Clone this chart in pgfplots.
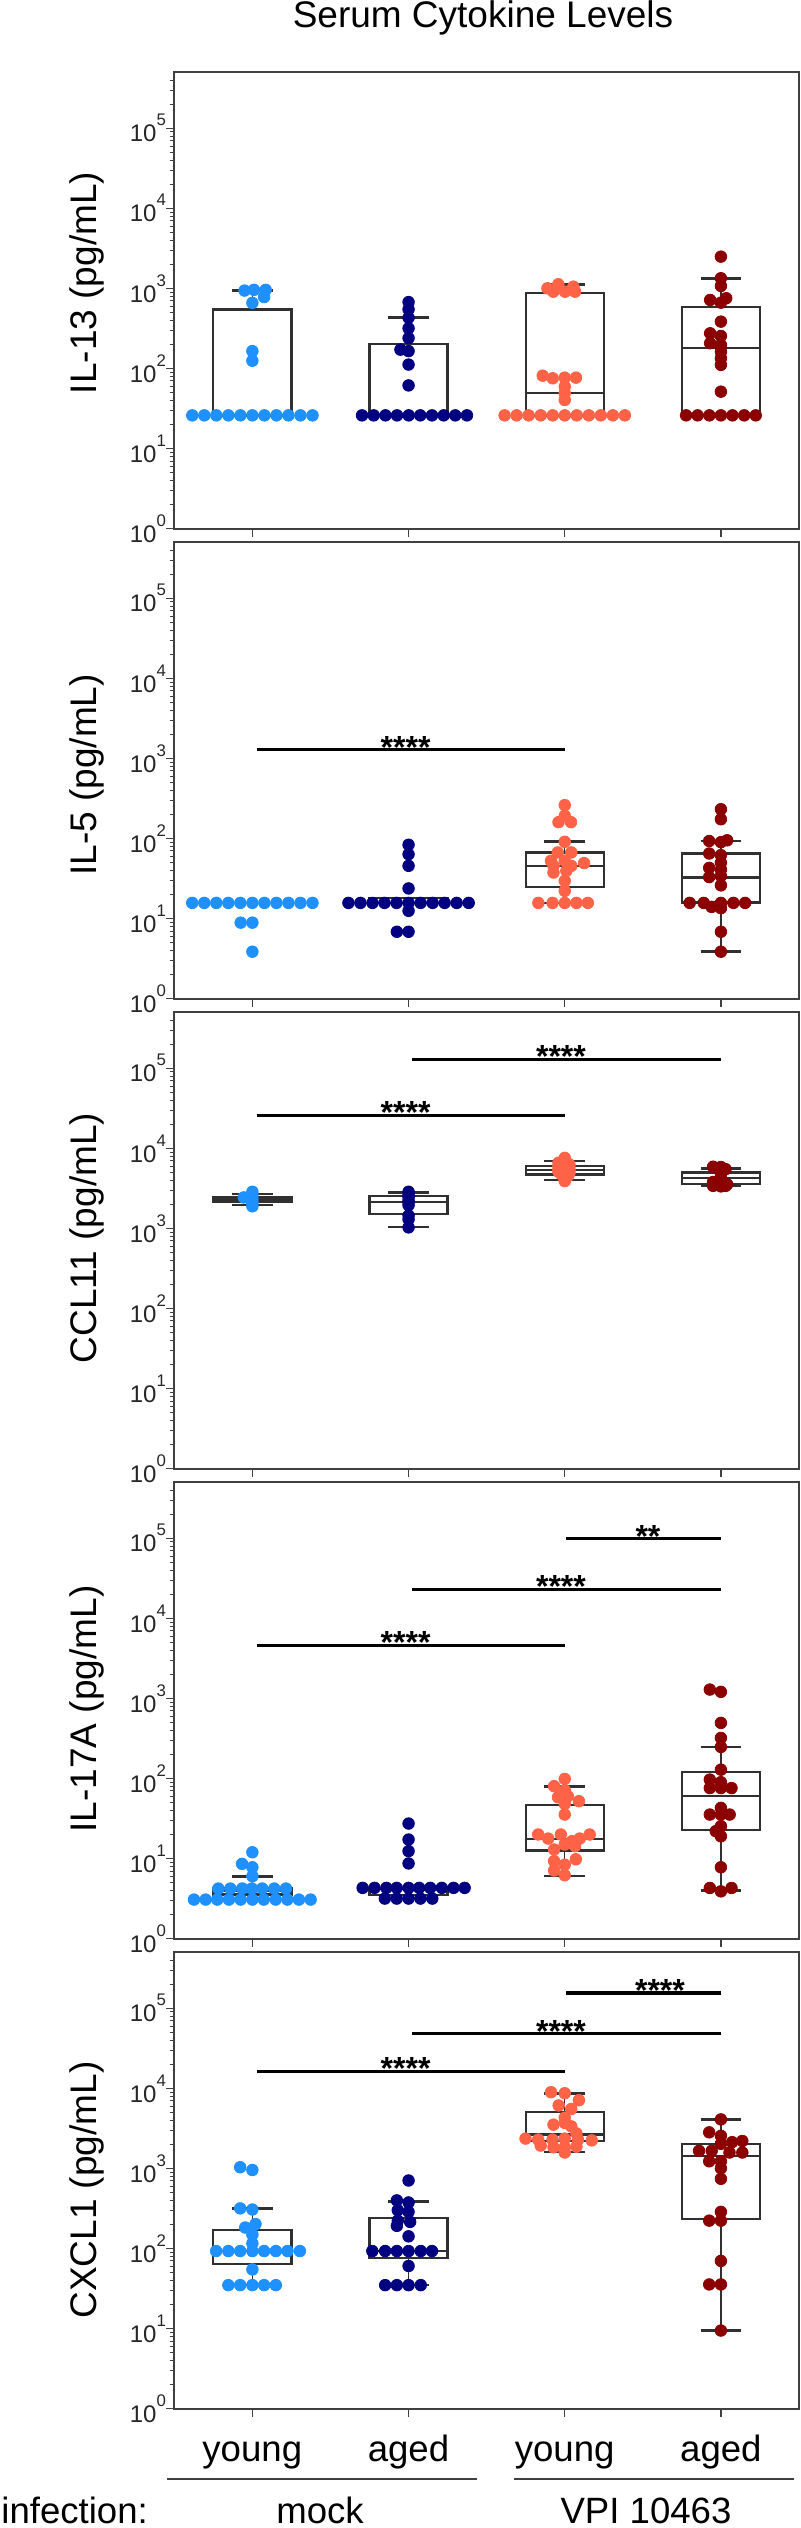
\documentclass[border=0pt]{standalone}
\usepackage{pgfplots}
\pgfplotsset{compat=1.18}
\usepackage{fontspec}
\setmainfont{Liberation Sans}
\definecolor{cYoung}{HTML}{1E90FF}
\definecolor{cAged}{HTML}{000080}
\definecolor{cVY}{HTML}{FF6347}
\definecolor{cVA}{HTML}{8B0000}
\definecolor{axc}{HTML}{404040}
\definecolor{boxc}{HTML}{303030}
\newcommand{\tl}[1]{\mbox{10\raisebox{8pt}{\fontsize{8.4}{9}\selectfont #1}}}
\newcommand{\bxx}[5]{%
  \addplot[draw=boxc, line width=1.15pt, line join=miter, line cap=rect] coordinates {(#1,#3) (#2,#3) (#2,#5) (#1,#5) (#1,#3)};
  \addplot[draw=boxc, line width=1.15pt] coordinates {(#1,#4) (#2,#4)};}
\newcommand{\wh}[5]{%
  \addplot[draw=boxc, line width=0.6pt] coordinates {(#1,#4) (#1,#5)};
  \addplot[draw=boxc, line width=1.3pt] coordinates {(#2,#5) (#3,#5)};}
\newcommand{\sig}[5]{%
  \addplot[draw=black, line width=1.55pt] coordinates {(#1,#3) (#2,#3)};
  \node[anchor=base, inner sep=0pt, yshift=-4.2pt, font=\bfseries\fontsize{16}{16}\selectfont] at (axis cs:#4,#3) {#5};}
\begin{document}
\begin{tikzpicture}
% ---------------- Panel 1: IL-13
\begin{axis}[scale only axis, width=312.35pt, height=228.2pt, anchor=south west, at={(87.15pt,999.65pt)},
    xmin=-0.5, xmax=3.5, ymode=log, ymin=1, ymax=5e5,
    xtick={0,1,2,3}, xticklabels={,,,},
    ytick={1,10,100,1000,10000,100000},
    yticklabels={\tl{0},\tl{1},\tl{2},\tl{3},\tl{4},\tl{5}},
    minor ytick={2,3,4,5,6,7,8,9,20,30,40,50,60,70,80,90,200,300,400,500,600,700,800,900,2000,3000,4000,5000,6000,7000,8000,9000,20000,30000,40000,50000,60000,70000,80000,90000,200000,300000,400000},
    tick align=outside, xtick pos=left, ytick pos=left,
    major tick length=4pt, minor tick length=2pt,
    axis line style={draw=axc, line width=1pt},
    major tick style={draw=axc, line width=0.6pt},
    minor tick style={draw=axc, line width=0.5pt},
    yticklabel style={anchor=east, inner sep=0pt, font=\fontsize{12}{12}\selectfont, text=black!85},
    clip=false]
\bxx{-0.25}{0.25}{26}{26}{546}
\wh{0}{-0.13}{0.13}{546}{950}
\bxx{0.75}{1.25}{26}{26}{201}
\wh{1}{0.87}{1.13}{201}{437}
\bxx{1.75}{2.25}{26}{49.1}{871}
\wh{2}{1.87}{2.13}{871}{1127}
\bxx{2.75}{3.25}{26}{179}{592}
\wh{3}{2.87}{3.13}{592}{1340}
\addplot[only marks, mark=*, mark size=2.9pt, color=cYoung] coordinates {(-0.385,26)(-0.308,26)(-0.231,26)(-0.154,26)(-0.077,26)(0,26)(0.077,26)(0.154,26)(0.231,26)(0.308,26)(0.385,26)(0,125)(0,165)(-0.05,940)(0.01,960)(0.085,960)(0.075,780)(0,660)};
\addplot[only marks, mark=*, mark size=2.9pt, color=cAged] coordinates {(0.702,26)(0.777,26)(0.852,26)(0.926,26)(1.001,26)(1.075,26)(1.150,26)(1.225,26)(1.299,26)(1.374,26)(1,61.5)(1,112)(0.948,172)(1,165)(1,240)(1,318)(1,430)(1,547)(1,675)};
\addplot[only marks, mark=*, mark size=2.9pt, color=cVY] coordinates {(1.615,26)(1.692,26)(1.769,26)(1.846,26)(1.923,26)(2,26)(2.077,26)(2.154,26)(2.231,26)(2.308,26)(2.385,26)(1.859,81.4)(1.923,75.5)(2,76.9)(2.072,76.9)(2,59.3)(2,49.1)(2,40.5)(1.889,1004)(1.959,1127)(2.002,911)(2.055,1052)(2.066,911)(1.927,911)};
\addplot[only marks, mark=*, mark size=2.9pt, color=cVA] coordinates {(2.777,26)(2.851,26)(2.926,26)(3,26)(3.074,26)(3.149,26)(3.223,26)(3,2494)(3,1340)(3,1073)(2.931,718)(3,664)(3.034,754)(3,385)(2.931,275)(3,255)(2.931,207)(3,197)(3,162)(3,134)(3,111)(3,51.4)};
\end{axis}
% ---------------- Panel 2: IL-5
\begin{axis}[scale only axis, width=312.35pt, height=228.2pt, anchor=south west, at={(87.15pt,764.65pt)},
    xmin=-0.5, xmax=3.5, ymode=log, ymin=1, ymax=5e5,
    xtick={0,1,2,3}, xticklabels={,,,},
    ytick={1,10,100,1000,10000,100000},
    yticklabels={\tl{0},\tl{1},\tl{2},\tl{3},\tl{4},\tl{5}},
    minor ytick={2,3,4,5,6,7,8,9,20,30,40,50,60,70,80,90,200,300,400,500,600,700,800,900,2000,3000,4000,5000,6000,7000,8000,9000,20000,30000,40000,50000,60000,70000,80000,90000,200000,300000,400000},
    tick align=outside, xtick pos=left, ytick pos=left,
    major tick length=4pt, minor tick length=2pt,
    axis line style={draw=axc, line width=1pt},
    major tick style={draw=axc, line width=0.6pt},
    minor tick style={draw=axc, line width=0.5pt},
    yticklabel style={anchor=east, inner sep=0pt, font=\fontsize{12}{12}\selectfont, text=black!85},
    clip=false]
\bxx{0.75}{1.25}{15.7}{15.7}{18}
\bxx{1.75}{2.25}{25}{45.6}{67}
\wh{2}{1.87}{2.13}{67}{91}
\wh{2}{1.87}{2.13}{25}{15.7}
\bxx{2.75}{3.25}{15.9}{32.6}{65}
\wh{3}{2.87}{3.13}{65}{93.5}
\wh{3}{2.87}{3.13}{15.9}{3.86}
\addplot[only marks, mark=*, mark size=2.9pt, color=cYoung] coordinates {(-0.385,15.7)(-0.308,15.7)(-0.231,15.7)(-0.154,15.7)(-0.077,15.7)(0,15.7)(0.077,15.7)(0.154,15.7)(0.231,15.7)(0.308,15.7)(0.385,15.7)(-0.075,8.9)(0,8.9)(0,3.86)};
\addplot[only marks, mark=*, mark size=2.9pt, color=cAged] coordinates {(0.615,15.7)(0.692,15.7)(0.769,15.7)(0.846,15.7)(0.923,15.7)(1,15.7)(1.077,15.7)(1.154,15.7)(1.231,15.7)(1.308,15.7)(1.385,15.7)(1,23.8)(1,45.6)(1,63.6)(1,83.6)(1,12.5)(0.925,6.85)(1,6.85)};
\addplot[only marks, mark=*, mark size=2.9pt, color=cVY] coordinates {(1.831,15.7)(1.922,15.7)(2,15.7)(2.075,15.7)(2.148,15.7)(2,261)(2,192)(1.96,160)(2.04,160)(2,90.9)(1.955,67)(2.042,67)(1.912,52.7)(2,52.7)(2.124,49.3)(1.928,45.6)(2.042,45.6)(1.928,37.6)(2.01,39.4)(2,29.6)(2,22.2)};
\addplot[only marks, mark=*, mark size=2.9pt, color=cVA] coordinates {(2.8,15.7)(2.89,15.7)(3,15.7)(3.08,15.7)(3.155,15.7)(2.94,14)(3,13.5)(3,232)(3,174)(2.925,93)(3,90)(3.04,95)(2.925,65)(3,62)(3,50)(2.925,43)(3,41)(3,34)(2.925,33)(3,26)(3,6.85)(3,3.86)};
\sig{0.0275}{2.004}{1277}{0.981}{****}
\end{axis}
% ---------------- Panel 3: CCL11
\begin{axis}[scale only axis, width=312.35pt, height=228.2pt, anchor=south west, at={(87.15pt,529.65pt)},
    xmin=-0.5, xmax=3.5, ymode=log, ymin=1, ymax=5e5,
    xtick={0,1,2,3}, xticklabels={,,,},
    ytick={1,10,100,1000,10000,100000},
    yticklabels={\tl{0},\tl{1},\tl{2},\tl{3},\tl{4},\tl{5}},
    minor ytick={2,3,4,5,6,7,8,9,20,30,40,50,60,70,80,90,200,300,400,500,600,700,800,900,2000,3000,4000,5000,6000,7000,8000,9000,20000,30000,40000,50000,60000,70000,80000,90000,200000,300000,400000},
    tick align=outside, xtick pos=left, ytick pos=left,
    major tick length=4pt, minor tick length=2pt,
    axis line style={draw=axc, line width=1pt},
    major tick style={draw=axc, line width=0.6pt},
    minor tick style={draw=axc, line width=0.5pt},
    yticklabel style={anchor=east, inner sep=0pt, font=\fontsize{12}{12}\selectfont, text=black!85},
    clip=false]
\bxx{-0.25}{0.25}{2153}{2300}{2437}
\wh{0}{-0.13}{0.13}{2437}{2700}
\wh{0}{-0.13}{0.13}{2153}{1960}
\bxx{0.75}{1.25}{1510}{2153}{2534}
\wh{1}{0.87}{1.13}{2534}{2786}
\wh{1}{0.87}{1.13}{1510}{1038}
\bxx{1.75}{2.25}{4720}{5340}{6050}
\wh{2}{1.87}{2.13}{6050}{6920}
\wh{2}{1.87}{2.13}{4720}{4045}
\bxx{2.75}{3.25}{3573}{4285}{5000}
\wh{3}{2.87}{3.13}{5000}{5560}
\wh{3}{2.87}{3.13}{3573}{3450}
\addplot[only marks, mark=*, mark size=2.9pt, color=cYoung] coordinates {(0,2870)(0,2650)(-0.055,2440)(0,2400)(0,2200)(0,2050)(0,1890)};
\addplot[only marks, mark=*, mark size=2.9pt, color=cAged] coordinates {(1,2870)(1,2650)(1,2450)(1,2250)(1,2100)(1,1950)(1,1450)(1,1300)(1,1030)};
\addplot[only marks, mark=*, mark size=2.9pt, color=cVY] coordinates {(2,7600)(2,7000)(1.96,6600)(2.03,6300)(1.96,6000)(2.03,5800)(1.96,5500)(2.03,5300)(1.96,5100)(2.03,4900)(1.98,4700)(2.02,4500)(2,4200)(2,4000)(2,3900)};
\addplot[only marks, mark=*, mark size=2.9pt, color=cVA] coordinates {(2.95,5900)(3,5850)(3.03,5500)(3,4800)(3,4300)(2.95,3800)(3,3700)(3.04,3550)(2.95,3400)(3,3350)(3.03,3400)};
\sig{0.0275}{2.004}{25700}{0.981}{****}
\sig{1.0205}{3.0}{129500}{1.976}{****}
\end{axis}
% ---------------- Panel 4: IL-17A
\begin{axis}[scale only axis, width=312.35pt, height=228.2pt, anchor=south west, at={(87.15pt,294.65pt)},
    xmin=-0.5, xmax=3.5, ymode=log, ymin=1, ymax=5e5,
    xtick={0,1,2,3}, xticklabels={,,,},
    ytick={1,10,100,1000,10000,100000},
    yticklabels={\tl{0},\tl{1},\tl{2},\tl{3},\tl{4},\tl{5}},
    minor ytick={2,3,4,5,6,7,8,9,20,30,40,50,60,70,80,90,200,300,400,500,600,700,800,900,2000,3000,4000,5000,6000,7000,8000,9000,20000,30000,40000,50000,60000,70000,80000,90000,200000,300000,400000},
    tick align=outside, xtick pos=left, ytick pos=left,
    major tick length=4pt, minor tick length=2pt,
    axis line style={draw=axc, line width=1pt},
    major tick style={draw=axc, line width=0.6pt},
    minor tick style={draw=axc, line width=0.5pt},
    yticklabel style={anchor=east, inner sep=0pt, font=\fontsize{12}{12}\selectfont, text=black!85},
    clip=false]
\bxx{-0.25}{0.25}{3.56}{4.0}{4.23}
\wh{0}{-0.13}{0.13}{4.23}{6.03}
\bxx{0.75}{1.25}{3.5}{4.2}{4.31}
\bxx{1.75}{2.25}{12.6}{17.6}{46.4}
\wh{2}{1.87}{2.13}{46.4}{80}
\wh{2}{1.87}{2.13}{12.6}{6.1}
\bxx{2.75}{3.25}{22.6}{60}{120}
\wh{3}{2.87}{3.13}{120}{248}
\wh{3}{2.87}{3.13}{22.6}{4.0}
\addplot[only marks, mark=*, mark size=2.9pt, color=cYoung] coordinates {(-0.374,3.08)(-0.299,3.08)(-0.225,3.08)(-0.150,3.08)(-0.075,3.08)(0,3.08)(0.073,3.08)(0.149,3.08)(0.224,3.08)(0.298,3.08)(0.373,3.08)(-0.218,4.23)(-0.141,4.23)(-0.065,4.23)(-0.003,4.23)(0.063,4.23)(0.14,4.23)(0.215,4.23)(0,6.03)(-0.066,8.6)(0,7.8)(0,12.0)};
\addplot[only marks, mark=*, mark size=2.9pt, color=cAged] coordinates {(0.706,4.31)(0.782,4.31)(0.858,4.31)(0.924,4.31)(1,4.31)(1.068,4.31)(1.139,4.31)(1.213,4.31)(1.288,4.31)(1.359,4.31)(0.848,3.17)(0.924,3.17)(1,3.17)(1.076,3.17)(1.152,3.17)(1,8.7)(1,12.4)(1,17.3)(1,27.4)};
\addplot[only marks, mark=*, mark size=2.9pt, color=cVY] coordinates {(2,98.9)(1.932,80.2)(2,71.5)(1.957,58.4)(2.091,52.1)(2,48.2)(2,35.5)(1.83,20)(1.894,17.8)(1.975,20)(2.046,16.5)(2.096,17.8)(2.16,20)(1.932,13)(2,15)(2.066,14.3)(1.932,9.3)(2.071,9.8)(2,8.4)(1.932,7.1)(2,6.2)(2.02,60)};
\addplot[only marks, mark=*, mark size=2.9pt, color=cVA] coordinates {(2.929,1291)(3,1208)(3,495)(3,321)(3,248)(3,129)(2.929,97)(3,90)(2.929,76)(3,76)(3.068,76)(3,43)(2.929,35.5)(3,35.5)(3.056,35.5)(3,25.4)(2.967,22)(3,19)(3,7.8)(2.929,4.3)(3,3.9)(3.068,4.3)};
\sig{0.0275}{2.004}{4570}{0.981}{****}
\sig{1.0205}{3.0}{22860}{1.976}{****}
\sig{2.008}{3.0}{99000}{2.533}{**}
\end{axis}
% ---------------- Panel 5: CXCL1
\begin{axis}[scale only axis, width=312.35pt, height=228.2pt, anchor=south west, at={(87.15pt,59.65pt)},
    xmin=-0.5, xmax=3.5, ymode=log, ymin=1, ymax=5e5,
    xtick={0,1,2,3}, xticklabels={,,,},
    ytick={1,10,100,1000,10000,100000},
    yticklabels={\tl{0},\tl{1},\tl{2},\tl{3},\tl{4},\tl{5}},
    minor ytick={2,3,4,5,6,7,8,9,20,30,40,50,60,70,80,90,200,300,400,500,600,700,800,900,2000,3000,4000,5000,6000,7000,8000,9000,20000,30000,40000,50000,60000,70000,80000,90000,200000,300000,400000},
    tick align=outside, xtick pos=left, ytick pos=left,
    major tick length=4pt, minor tick length=2pt,
    axis line style={draw=axc, line width=1pt},
    major tick style={draw=axc, line width=0.6pt},
    minor tick style={draw=axc, line width=0.5pt},
    yticklabel style={anchor=east, inner sep=0pt, font=\fontsize{12}{12}\selectfont, text=black!85},
    clip=false]
\bxx{-0.25}{0.25}{63.7}{93}{170}
\wh{0}{-0.13}{0.13}{170}{317}
\wh{0}{-0.13}{0.13}{63.7}{34.9}
\bxx{0.75}{1.25}{76}{93}{242}
\wh{1}{0.87}{1.13}{242}{387}
\wh{1}{0.87}{1.13}{76}{34.9}
\bxx{1.75}{2.25}{2180}{2660}{5100}
\wh{2}{1.87}{2.13}{5100}{8690}
\wh{2}{1.87}{2.13}{2180}{1610}
\bxx{2.75}{3.25}{232}{1428}{2030}
\wh{3}{2.87}{3.13}{2030}{4095}
\wh{3}{2.87}{3.13}{232}{9.46}
\addplot[only marks, mark=*, mark size=2.9pt, color=cYoung] coordinates {(-0.078,1035)(0,956)(-0.078,317)(0,307)(-0.046,183)(0.02,202)(0,149)(0,116)(-0.232,93)(-0.154,93)(-0.078,93)(0,93)(0.075,93)(0.15,93)(0.225,93)(0.304,93)(0,54.8)(-0.154,34.9)(-0.078,34.9)(0,34.9)(0.075,34.9)(0.15,34.9)};
\addplot[only marks, mark=*, mark size=2.9pt, color=cAged] coordinates {(1,707)(0.925,399)(1,376)(0.931,301)(1,287)(0.931,223)(1.01,215)(0.925,192)(1,142)(0.768,93)(0.85,93)(0.925,93)(1,93)(1.078,93)(1.15,93)(1,60.5)(0.85,34.9)(0.925,34.9)(1,34.9)(1.078,34.9)};
\addplot[only marks, mark=*, mark size=2.9pt, color=cVY] coordinates {(1.912,8950)(2,8690)(2.091,7110)(1.961,6120)(2.042,5530)(2,4300)(1.928,3520)(2,3710)(2.042,3350)(2.075,2740)(1.749,2360)(1.83,2290)(1.922,2290)(2,2360)(2.085,2290)(2.173,2240)(1.846,1930)(1.928,1835)(2,1835)(2.075,1870)(2,1580)};
\addplot[only marks, mark=*, mark size=2.9pt, color=cVA] coordinates {(3,4095)(2.925,2825)(3,2555)(3.072,2130)(3.137,2200)(2.86,1660)(2.941,1660)(3,2030)(3.055,1580)(3.137,1580)(2.925,1228)(3,1228)(3,1005)(3,743)(3,287)(2.925,223)(3,223)(3,70)(2.925,35.6)(3,35.6)(3,9.46)};
\sig{0.0275}{2.004}{16360}{0.981}{****}
\sig{1.0205}{3.0}{47800}{1.976}{****}
\sig{2.008}{3.0}{155000}{2.61}{****}
\end{axis}
% ---------------- texts
\node[anchor=base, inner sep=0pt, font=\fontsize{18.5}{18.5}\selectfont] at (241.5pt,1250pt) {Serum Cytokine Levels};
\node[rotate=90, anchor=base, inner sep=0pt, font=\fontsize{18.5}{18.5}\selectfont] at (48pt,1122.5pt) {IL-13 (pg/mL)};
\node[rotate=90, anchor=base, inner sep=0pt, font=\fontsize{18.5}{18.5}\selectfont] at (48pt,876.5pt) {IL-5 (pg/mL)};
\node[rotate=90, anchor=base, inner sep=0pt, font=\fontsize{18.5}{18.5}\selectfont] at (48pt,645pt) {CCL11 (pg/mL)};
\node[rotate=90, anchor=base, inner sep=0pt, font=\fontsize{18.5}{18.5}\selectfont] at (48pt,409.5pt) {IL-17A (pg/mL)};
\node[rotate=90, anchor=base, inner sep=0pt, font=\fontsize{18.5}{18.5}\selectfont] at (48pt,169pt) {CXCL1 (pg/mL)};
\node[anchor=base, inner sep=0pt, font=\fontsize{18.3}{18.3}\selectfont] at (126.15pt,33.15pt) {young};
\node[anchor=base, inner sep=0pt, font=\fontsize{18.3}{18.3}\selectfont] at (204.25pt,33.15pt) {aged};
\node[anchor=base, inner sep=0pt, font=\fontsize{18.3}{18.3}\selectfont] at (282.35pt,33.15pt) {young};
\node[anchor=base, inner sep=0pt, font=\fontsize{18.3}{18.3}\selectfont] at (360.45pt,33.15pt) {aged};
\node[anchor=base west, inner sep=0pt, font=\fontsize{18.3}{18.3}\selectfont] at (0.5pt,2.2pt) {infection:};
\node[anchor=base, inner sep=0pt, font=\fontsize{18.3}{18.3}\selectfont] at (160pt,2.2pt) {mock};
\node[anchor=base, inner sep=0pt, font=\fontsize{18.3}{18.3}\selectfont] at (323pt,2.2pt) {VPI 10463};
\draw[draw=axc, line width=0.9pt] (83.5pt,24.5pt) -- (238.5pt,24.5pt);
\draw[draw=axc, line width=0.9pt] (257pt,24.5pt) -- (397pt,24.5pt);
\pgfresetboundingbox
\path[use as bounding box] (0pt,0pt) rectangle (400pt,1264pt);
\end{tikzpicture}
\end{document}
